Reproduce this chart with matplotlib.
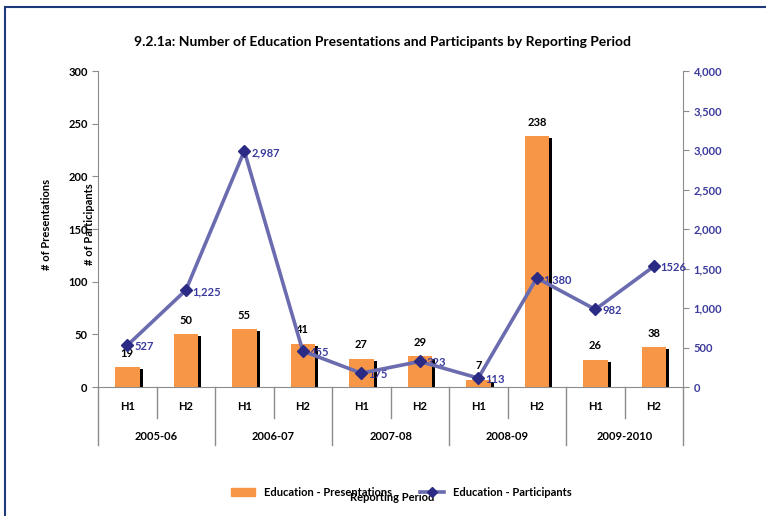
import matplotlib.pyplot as plt
from matplotlib.patches import Rectangle
from matplotlib.lines import Line2D
from matplotlib.patches import Patch
import numpy as np

plt.rcParams['font.family'] = ['Lato', 'DejaVu Sans']

halves = ['H1', 'H2'] * 5
years = ['2005-06', '2006-07', '2007-08', '2008-09', '2009-2010']
presentations = [19, 50, 55, 41, 27, 29, 7, 238, 26, 38]
participants = [527, 1225, 2987, 455, 175, 323, 113, 1380, 982, 1526]
participant_labels = ['527', '1,225', '2,987', '455', '175', '323', '113', '1,380', '982', '1526']

orange = '#f79646'
line_col = '#6b6bb0'
marker_col = '#2b2b85'
navy = '#3a3a9c'

fig = plt.figure(figsize=(7.66, 5.16), dpi=100)
ax = fig.add_axes([0.128, 0.25, 0.7637, 0.6124])
ax2 = ax.twinx()

x = np.arange(len(presentations))
w = 0.42
ax.bar(x, presentations, width=w, color=orange, zorder=2)
# dark shadow strip on the right of each bar
ax.bar(x + w / 2, [max(v - 2, 0) for v in presentations], width=0.05, align='edge',
       color='black', zorder=1)
for xi, v in zip(x, presentations):
    ax.annotate(str(v), (xi, v), xytext=(0, 6), textcoords='offset points',
                ha='center', va='bottom', fontsize=8, fontweight='bold')

ax.set_xlim(-0.5, 9.5)
ax.set_ylim(0, 300)
ax.set_yticks(range(0, 301, 50))
ax2.set_ylim(0, 4000)
ax2.set_yticks(range(0, 4001, 500))
ax2.set_yticklabels([f'{v:,}' for v in range(0, 4001, 500)])

ax2.plot(x, participants, color=line_col, lw=2.6, marker='D', ms=6,
         mfc=marker_col, mec=marker_col, zorder=5)
for xi, v, lab in zip(x, participants, participant_labels):
    ax2.annotate(lab, (xi, v), xytext=(5, -1), textcoords='offset points',
                 ha='left', va='center', fontsize=8, fontweight='bold', color=navy)

for a in (ax, ax2):
    a.spines['top'].set_visible(False)
    for s in ('left', 'right', 'bottom'):
        a.spines[s].set_color('#8c8c8c')
ax.spines['right'].set_visible(False)
ax2.spines['left'].set_visible(False)
ax2.spines['bottom'].set_visible(False)

ax.tick_params(axis='y', colors='#8c8c8c', labelcolor='black', length=4, labelsize=8)
ax2.tick_params(axis='y', colors='#8c8c8c', labelcolor=navy, length=4, labelsize=8)
for lbl in ax.get_yticklabels() + ax2.get_yticklabels():
    lbl.set_fontweight('bold')
ax.set_xticks([])

# multi-level category axis
trans = ax.get_xaxis_transform()
for xi, h in zip(x, halves):
    ax.text(xi, -0.063, h, transform=trans, ha='center', va='center', fontsize=8, fontweight='bold')
for i, yr in enumerate(years):
    ax.text(2 * i + 0.5, -0.158, yr, transform=trans, ha='center', va='center',
            fontsize=8, fontweight='bold')
for b in np.arange(-0.5, 10, 2):
    ax.plot([b, b], [0, -0.184], transform=trans, color='#8c8c8c', lw=1, clip_on=False)
for b in np.arange(0.5, 10, 2):
    ax.plot([b, b], [0, -0.098], transform=trans, color='#8c8c8c', lw=1, clip_on=False)

fig.text(0.5, 0.919, '9.2.1a: Number of Education Presentations and Participants by Reporting Period',
         ha='center', va='center', fontsize=10, fontweight='bold')
fig.text(0.061, 0.565, '# of Presentations', rotation=90, ha='center', va='center',
         fontsize=8, fontweight='bold')
fig.text(0.117, 0.565, '# of Participants', rotation=90, ha='center', va='center',
         fontsize=8, fontweight='bold')

handles = [Patch(color=orange),
           Line2D([], [], color=line_col, lw=2.6, marker='D', ms=5, mfc=marker_col, mec=marker_col)]
fig.legend(handles, ['Education - Presentations', 'Education - Participants'],
           loc='center', bbox_to_anchor=(0.524, 0.046), ncol=2, frameon=False,
           prop={'size': 8, 'weight': 'bold'}, handlelength=2.2, columnspacing=2.5)
fig.text(0.512, 0.035, 'Reporting Period', ha='center', va='center', fontsize=8, fontweight='bold')

fig.patches.append(Rectangle((0.007, -0.1), 1.2, 1.086, transform=fig.transFigure,
                             fill=False, ec='#1f3a7a', lw=1.5))

fig.savefig('out.png', dpi=100)
